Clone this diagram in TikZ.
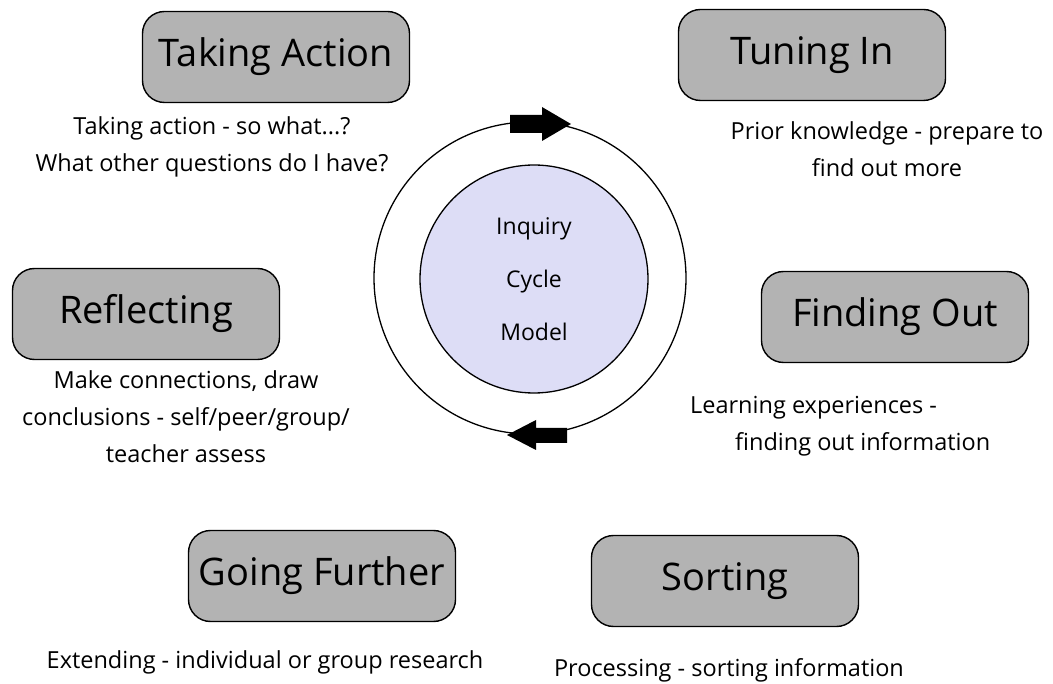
\documentclass[tikz,border=0pt]{standalone}
\usepackage{fontspec}
\setmainfont{Open Sans}
\definecolor{boxgray}{RGB}{179,179,179}
\definecolor{lavender}{RGB}{221,221,246}
\tikzset{
    stage/.style={draw=black, line width=1.4pt, fill=boxgray, rounded corners=22pt,
        minimum width=267pt, minimum height=91pt, inner sep=0pt,
        font=\fontsize{38}{46}\selectfont},
    note/.style={align=center, inner sep=0pt, font=\fontsize{23.5}{37}\selectfont},
    blockarrow/.style={fill=black}
}
\begin{document}
\begin{tikzpicture}[x=1pt,y=-1pt]
            \useasboundingbox (0,0) rectangle (1053,684);
            % stages
            \node[stage] (act) at (276, 57) {Taking Action};
            \node[stage] (tune) at (812, 55) {Tuning In};
            \node[stage] (refl) at (146, 314) {Reflecting};
            \node[stage] (find) at (895, 317) {Finding Out};
            \node[stage] (further) at (322, 576) {Going Further};
            \node[stage] (sort) at (725, 581) {Sorting};

            % descriptions
            \node[note] (actnote) at (212, 147) {Taking action - so what...?\\What other questions do I have?};
            \node[note] (tunenote) at (887, 149) {Prior knowledge - prepare to\\find out more};
            \node[note] (reflnote) at (186, 417) {Make connections, draw\\conclusions - self/peer/group/\\teacher assess};
            \node[note, align=left, anchor=west] (findnote) at (690, 426) {Learning experiences -\\\hspace*{45pt}finding out information};
            \node[note] (furthernote) at (265, 662) {Extending - individual or group research};
            \node[note] (sortnote) at (729, 670) {Processing - sorting information};

            % cycle
            \coordinate (cyc) at (530, 278);
            \draw[line width=1.3pt] (cyc) circle (156pt);
            \node[circle, draw, line width=1.3pt, fill=lavender, minimum size=228pt, inner sep=0pt,
                align=center, font=\fontsize{23}{53}\selectfont] (model) at (534, 279) {Inquiry\\Cycle\\Model};
            \fill[blockarrow] (510,115) -- (542,115) -- (542,107) -- (571,124) -- (542,141) -- (542,133) -- (510,133) -- cycle;
            \fill[blockarrow] (567,428) -- (536,428) -- (536,420) -- (507,435) -- (536,450) -- (536,443) -- (567,443) -- cycle;
        \end{tikzpicture}
\end{document}
